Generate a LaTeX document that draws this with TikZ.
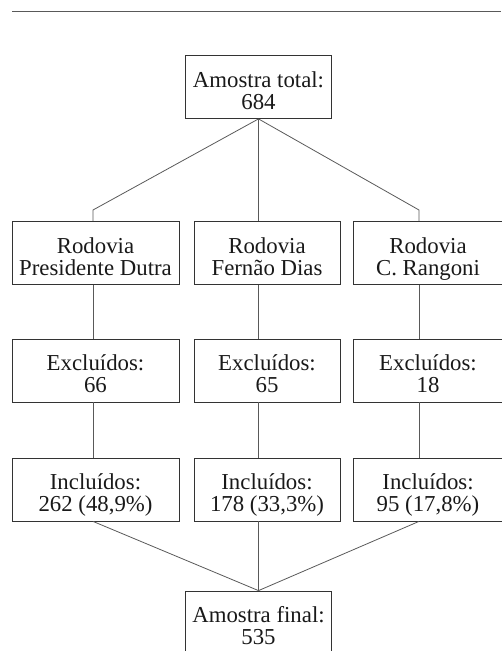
\documentclass[tikz,border=0pt]{standalone}
\usepackage{fontspec}
\setmainfont{Liberation Serif}
\usetikzlibrary{calc}

\tikzset{
  caixa/.style={draw=black!80, line width=0.8pt, inner sep=0pt, align=center,
    font=\fontsize{22.8}{22}\selectfont, text=black!90},
  liga/.style={draw=black!65, line width=0.8pt},
}

\begin{document}
\begin{tikzpicture}[x=1pt, y=-1pt]
  \newcommand{\fluxbox}[5]% name, x, y, width, text
  {%
    \node[caixa, minimum width=#4pt, minimum height=63pt] (#1) at (#2, #3)
      {\rule{0pt}{28pt}#5\rule[-6pt]{0pt}{6pt}};%
  }%
  \useasboundingbox (0, 0) rectangle (501, 651);
  \draw[liga] (12, 11) -- (501, 11);
  % columns
  \coordinate (colA) at (93, 210);
  \coordinate (colB) at (258.5, 210);
  \coordinate (colC) at (419, 210);
  \fluxbox{total}{258.5}{87}{146}{Amostra total:\\684}
  \fluxbox{rodA}{95.5}{253}{167}{Rodovia\\Presidente Dutra}
  \fluxbox{rodB}{267}{253}{146}{Rodovia\\Fernão Dias}
  \fluxbox{rodC}{428}{253}{150}{Rodovia\\C. Rangoni}
  \fluxbox{excA}{95.5}{370.5}{167}{Excluídos:\\66}
  \fluxbox{excB}{267}{370.5}{146}{Excluídos:\\65}
  \fluxbox{excC}{428}{370.5}{150}{Excluídos:\\18}
  \fluxbox{incA}{95.5}{489.5}{167}{Incluídos:\\262 (48,9\%)}
  \fluxbox{incB}{267}{489.5}{146}{Incluídos:\\178 (33,3\%)}
  \fluxbox{incC}{428}{489.5}{150}{Incluídos:\\95 (17,8\%)}
  \fluxbox{final}{258.5}{622.5}{146}{Amostra final:\\535}
  % connectors
  \draw[liga] (total.south) -- (colA) -- (colA |- rodA.north);
  \draw[liga] (total.south) -- (colB |- rodB.north);
  \draw[liga] (total.south) -- (colC) -- (colC |- rodC.north);
  \foreach \c in {A, B, C}
  {
    \draw[liga] (col\c |- rod\c.south) -- (col\c |- exc\c.north);
    \draw[liga] (col\c |- exc\c.south) -- (col\c |- inc\c.north);
    \draw[liga] (col\c |- inc\c.south) -- (final.north);
  }
\end{tikzpicture}
\end{document}
